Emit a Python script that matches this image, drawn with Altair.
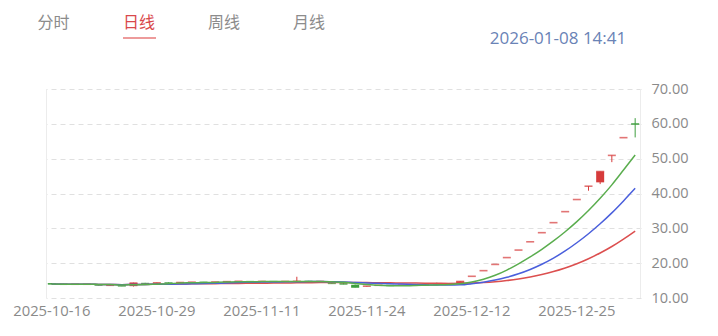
import altair as alt
import pandas as pd

dates = [
    "2025-10-16", "2025-10-17", "2025-10-20", "2025-10-21", "2025-10-22", "2025-10-23", "2025-10-24",
    "2025-10-27", "2025-10-28", "2025-10-29", "2025-10-30", "2025-10-31", "2025-11-03", "2025-11-04",
    "2025-11-05", "2025-11-06", "2025-11-07", "2025-11-10", "2025-11-11", "2025-11-12", "2025-11-13",
    "2025-11-14", "2025-11-17", "2025-11-18", "2025-11-19", "2025-11-20", "2025-11-21", "2025-11-24",
    "2025-11-25", "2025-11-26", "2025-11-27", "2025-11-28", "2025-12-01", "2025-12-02", "2025-12-03",
    "2025-12-04", "2025-12-12", "2025-12-15", "2025-12-16", "2025-12-17", "2025-12-18", "2025-12-19",
    "2025-12-22", "2025-12-23", "2025-12-24", "2025-12-25", "2025-12-26", "2025-12-29", "2025-12-30",
    "2025-12-31", "2026-01-05",
]
opens = [14.25, 14.05, 13.85, 13.90, 13.90, 13.55, 13.65, 13.40, 14.30, 14.10,
         14.40, 14.30, 14.40, 14.55, 14.50, 14.55, 14.65, 14.80, 14.70, 14.75,
         14.70, 14.70, 14.85, 14.70, 14.50, 14.20, 13.80, 13.35, 13.50, 13.70,
         13.60, 13.75, 13.65, 14.10, 14.00, 14.15, 16.23, 17.85, 19.64, 21.60,
         23.76, 26.14, 28.75, 31.63, 34.79, 38.27, 42.10, 43.20, 50.94, 56.03, 60.10]
highs = [14.30, 14.10, 14.00, 14.00, 13.95, 13.70, 13.70, 14.40, 14.35, 14.40,
         14.45, 14.50, 14.60, 14.60, 14.65, 14.75, 14.85, 14.85, 14.80, 14.80,
         14.80, 16.10, 14.90, 14.80, 14.55, 14.25, 13.85, 13.45, 13.70, 13.75,
         13.75, 13.80, 13.85, 14.40, 14.15, 14.80, 16.23, 17.85, 19.64, 21.60,
         23.76, 26.14, 28.75, 31.63, 34.79, 38.27, 42.10, 46.31, 50.94, 56.03, 61.63]
lows = [13.95, 13.90, 13.80, 13.85, 13.65, 13.50, 13.40, 13.30, 14.10, 14.05,
        14.25, 14.25, 14.35, 14.45, 14.45, 14.50, 14.60, 14.65, 14.65, 14.65,
        14.65, 14.65, 14.70, 14.65, 14.15, 13.95, 13.05, 13.30, 13.45, 13.55,
        13.55, 13.60, 13.60, 13.90, 13.95, 14.10, 16.23, 17.85, 19.64, 21.60,
        23.76, 26.14, 28.75, 31.63, 34.79, 38.27, 40.80, 42.70, 49.00, 56.03, 56.10]
closes = [14.00, 13.95, 13.95, 13.95, 13.70, 13.65, 13.45, 14.30, 14.15, 14.35,
          14.30, 14.45, 14.55, 14.50, 14.60, 14.70, 14.80, 14.70, 14.75, 14.70,
          14.75, 14.80, 14.75, 14.75, 14.20, 14.00, 13.10, 13.40, 13.65, 13.60,
          13.70, 13.65, 13.80, 14.05, 14.10, 14.75, 16.23, 17.85, 19.64, 21.60,
          23.76, 26.14, 28.75, 31.63, 34.79, 38.27, 42.10, 46.31, 50.94, 56.03, 59.90]

tick_dates = ["2025-10-16", "2025-10-29", "2025-11-11", "2025-11-24", "2025-12-12", "2025-12-25"]
y_ticks = [10, 20, 30, 40, 50, 60, 70]
tabs = ["分时", "日线", "周线", "月线"]
active_tab = "日线"
timestamp = "2026-01-08 14:41"

df = pd.DataFrame({"date": dates, "open": opens, "high": highs, "low": lows, "close": closes})

UP = "#d63b3b"
DOWN = "#3f9e3f"
W, H = 595, 209
NUM_FONT = "Open Sans"
CJK_FONT = "Noto Sans CJK SC"

x_enc = alt.X(
    "date:O",
    scale=alt.Scale(domain=dates, paddingInner=0, paddingOuter=0),
    axis=alt.Axis(values=tick_dates, title=None, labelAngle=0, ticks=False, domain=False,
                  grid=False, labelFont=NUM_FONT, labelFontSize=14.8, labelColor="#8a8a8a",
                  labelPadding=5, labelOverlap=False),
)
y_scale = alt.Scale(domain=[10, 70], nice=False, zero=False)
y_axis = alt.Axis(values=y_ticks, format=".2f", orient="right", title=None, ticks=False,
                  domain=False, grid=True, gridDash=[5, 4], gridColor="#e0e0e0",
                  labelFont=NUM_FONT, labelFontSize=14.5, labelColor="#8a8a8a", labelPadding=10)

color_enc = alt.condition("datum.close >= datum.open", alt.value(UP), alt.value(DOWN))

base = alt.Chart(df)

wick = base.mark_rule(strokeWidth=1).encode(
    x=x_enc,
    y=alt.Y("low:Q", scale=y_scale, axis=y_axis),
    y2="high:Q",
    color=color_enc,
)
body = base.mark_bar(size=8).encode(
    x=x_enc,
    y=alt.Y("open:Q", scale=y_scale, axis=y_axis),
    y2="close:Q",
    color=color_enc,
)
flat = base.mark_tick(size=8, thickness=1.6).encode(
    x=x_enc,
    y=alt.Y("close:Q", scale=y_scale, axis=y_axis),
    color=color_enc,
)

ma = base.transform_window(
    ma5="mean(close)", frame=[-4, 0], sort=[alt.SortField("date")]
).transform_window(
    ma10="mean(close)", frame=[-9, 0], sort=[alt.SortField("date")]
).transform_window(
    ma20="mean(close)", frame=[-19, 0], sort=[alt.SortField("date")]
)
line20 = ma.mark_line(color="#dc4f4f", strokeWidth=1.5, interpolate="monotone").encode(
    x=x_enc, y=alt.Y("ma20:Q", scale=y_scale, axis=y_axis))
line10 = ma.mark_line(color="#4a5fdc", strokeWidth=1.5, interpolate="monotone").encode(
    x=x_enc, y=alt.Y("ma10:Q", scale=y_scale, axis=y_axis))
line5 = ma.mark_line(color="#5aad4e", strokeWidth=1.5, interpolate="monotone").encode(
    x=x_enc, y=alt.Y("ma5:Q", scale=y_scale, axis=y_axis))

one = alt.Chart(pd.DataFrame({"k": [0]}))
borders = [
    one.mark_rule(color="#ececec", strokeWidth=1).encode(
        x=alt.value(xv), y=alt.value(0), y2=alt.value(H))
    for xv in (0.5, W - 0.5)
]

tab_x = [7.5, 93, 178, 263]
tab_layers = []
for name, xv in zip(tabs, tab_x):
    tab_layers.append(
        alt.Chart(pd.DataFrame({"t": [name]})).mark_text(
            font=CJK_FONT, fontSize=16, align="center", baseline="middle",
            color="#d9484b" if name == active_tab else "#8c8c8c",
        ).encode(text="t:N", x=alt.value(xv), y=alt.value(-66))
    )
underline = one.mark_rule(color="#e77a7a", strokeWidth=1.5).encode(
    x=alt.value(77), x2=alt.value(110), y=alt.value(-51))
stamp = alt.Chart(pd.DataFrame({"t": [timestamp]})).mark_text(
    font=NUM_FONT, fontSize=17, align="center", baseline="middle", color="#6a83b6"
).encode(text="t:N", x=alt.value(512), y=alt.value(-50.5))

chart = alt.layer(
    *borders, wick, body, flat, line20, line10, line5, *tab_layers, underline, stamp
).properties(
    width=W, height=H,
    autosize=alt.AutoSizeParams(type="none"),
    padding={"left": 46, "top": 89, "right": 77, "bottom": 38},
    background="white",
).configure_view(stroke=None)

chart.save("out.html", embed_options={"renderer": "svg", "actions": False})
